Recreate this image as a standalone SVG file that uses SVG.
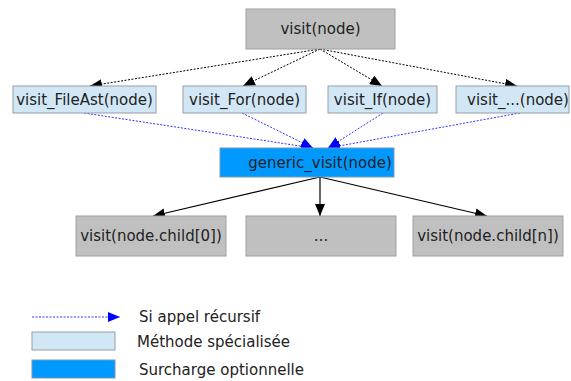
<svg xmlns="http://www.w3.org/2000/svg" width="571" height="381" viewBox="0 0 571 381">
<defs>
<marker id="ab" markerWidth="12" markerHeight="10" refX="12" refY="5" orient="auto" markerUnits="userSpaceOnUse"><path d="M0,0 L12,5 L0,10 Z" fill="#000"/></marker>
<marker id="au" markerWidth="12" markerHeight="10" refX="12" refY="5" orient="auto" markerUnits="userSpaceOnUse"><path d="M0,0 L12,5 L0,10 Z" fill="#0000ff"/></marker>
</defs>
<style>
text{font-family:"DejaVu Sans",sans-serif;font-size:15px;fill:#222;text-anchor:middle}
.g{fill:#c0c0c0;stroke:#a0a0a0;stroke-width:1}
.l{fill:#d2e7f5;stroke:#949ea6;stroke-width:1}
.b{fill:#0099ff;stroke:#7a9ab0;stroke-width:1}
.dk{stroke:#000;stroke-width:1;stroke-dasharray:2,1.5;fill:none}
.du{stroke:#3333ff;stroke-width:1;stroke-dasharray:2,1.5;fill:none}
.sl{stroke:#000;stroke-width:1.2;fill:none}
.lt{text-anchor:start}
</style>
<g id="connectors">
<line class="dk" x1="320" y1="49" x2="90" y2="86" marker-end="url(#ab)"/>
<line class="dk" x1="320" y1="49" x2="243" y2="86" marker-end="url(#ab)"/>
<line class="dk" x1="320" y1="49" x2="382" y2="86" marker-end="url(#ab)"/>
<line class="dk" x1="320" y1="49" x2="517" y2="86" marker-end="url(#ab)"/>
<line class="du" x1="84" y1="113" x2="313" y2="148" marker-end="url(#au)"/>
<line class="du" x1="242" y1="113" x2="313" y2="148" marker-end="url(#au)"/>
<line class="du" x1="383" y1="113" x2="328" y2="148" marker-end="url(#au)"/>
<line class="du" x1="520" y1="113" x2="328" y2="148" marker-end="url(#au)"/>
<line class="sl" x1="320" y1="177" x2="153" y2="216" marker-end="url(#ab)"/>
<line class="sl" x1="320" y1="177" x2="320" y2="216" marker-end="url(#ab)"/>
<line class="sl" x1="320" y1="177" x2="487" y2="216" marker-end="url(#ab)"/>
</g>
<g id="visit"><rect class="g" x="246" y="9" width="149" height="40"/><text x="320.5" y="34">visit(node)</text></g>
<g id="visit_FileAst"><rect class="l" x="13" y="86" width="143" height="27"/><text x="84.5" y="105">visit_FileAst(node)</text></g>
<g id="visit_For"><rect class="l" x="183" y="86" width="123" height="27"/><text x="244.5" y="105">visit_For(node)</text></g>
<g id="visit_If"><rect class="l" x="328" y="86" width="109" height="27"/><text x="382.5" y="105">visit_If(node)</text></g>
<g id="visit_etc"><rect class="l" x="456" y="86" width="113" height="27"/><text x="518" y="105">visit_...(node)</text></g>
<g id="generic_visit"><rect class="b" x="220" y="148" width="174" height="29"/><text x="320" y="168">generic_visit(node)</text></g>
<g id="child0"><rect class="g" x="76" y="216" width="150" height="40"/><text x="151" y="241">visit(node.child[0])</text></g>
<g id="childdots"><rect class="g" x="246" y="216" width="150" height="40"/><text x="321" y="241">...</text></g>
<g id="childn"><rect class="g" x="413" y="216" width="150" height="40"/><text x="488" y="241">visit(node.child[n])</text></g>
<g id="legend">
<line class="du" x1="32" y1="317" x2="120" y2="317" marker-end="url(#au)"/>
<text class="lt" x="139" y="322">Si appel récursif</text>
<rect class="l" x="32" y="332" width="83" height="18"/>
<text class="lt" x="137" y="347">Méthode spécialisée</text>
<rect class="b" x="32" y="360" width="83" height="18"/>
<text class="lt" x="139" y="375">Surcharge optionnelle</text>
</g>
</svg>
